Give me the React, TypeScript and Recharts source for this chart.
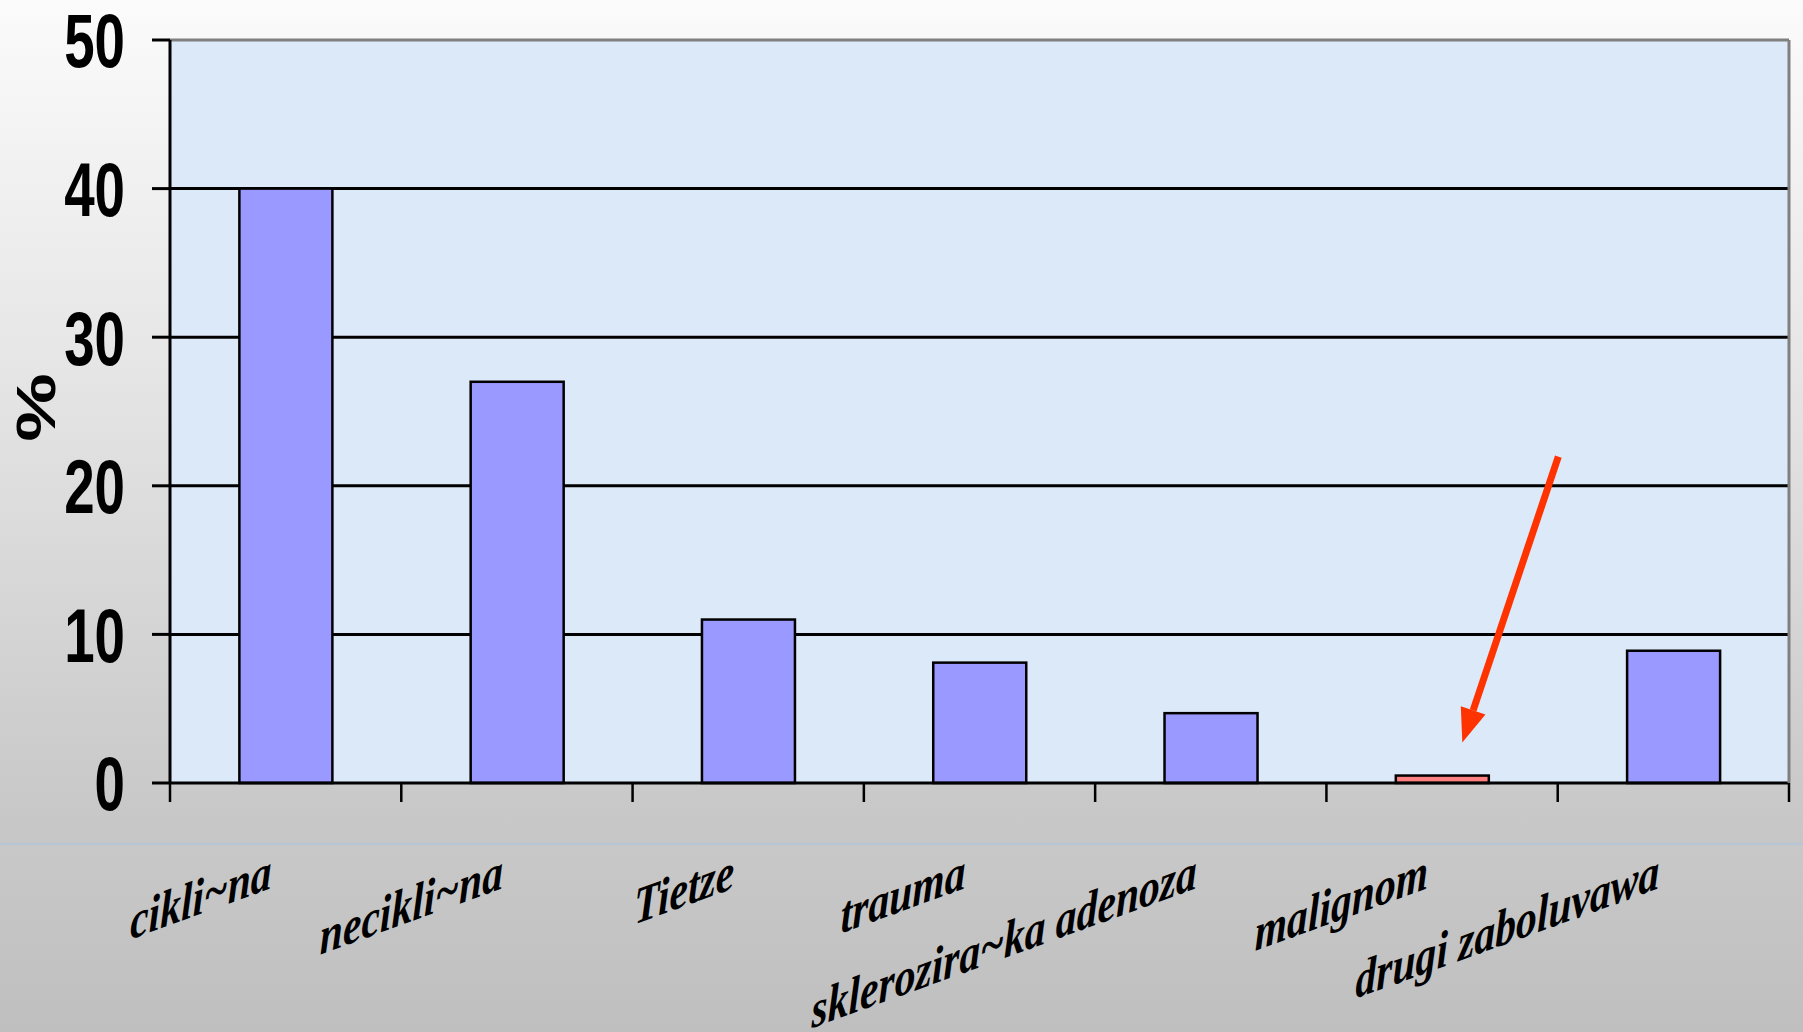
import { BarChart, Bar, XAxis, YAxis, CartesianGrid, ReferenceLine, Cell } from 'recharts';

const categories = ['cikli~na', 'necikli~na', 'Tietze', 'trauma', 'sklerozira~ka adenoza', 'malignom', 'drugi  zaboluvawa'];
const percents = [40, 27, 11, 8.1, 4.7, 0.5, 8.9];
const yTicks = [0, 10, 20, 30, 40, 50];
const highlighted = 'malignom';

const W = 1803;
const H = 1032;
const LEFT = 170;
const RIGHT = 14;

const data = categories.map((name, i) => ({ name, value: percents[i] }));

const YTick = (props: any) => {
  const { x, y, payload } = props;
  return (
    <text
      transform={`translate(${x},${y}) scale(0.72,1)`}
      textAnchor="end"
      dy="0.36em"
      fontFamily="'Liberation Sans', Arial, sans-serif"
      fontWeight="bold"
      fontSize={76}
      fill="#000"
    >
      {payload.value}
    </text>
  );
};

const XTick = (props: any) => {
  const { x, y, payload, index } = props;
  const half = payload.offset || (W - LEFT - RIGHT) / categories.length / 2;
  return (
    <g>
      <line x1={x - half} x2={x - half} y1={y} y2={y + 19} stroke="#000" strokeWidth={2.5} />
      {index === categories.length - 1 && (
        <line x1={x + half} x2={x + half} y1={y} y2={y + 19} stroke="#000" strokeWidth={2.5} />
      )}
      <text
        transform={`translate(${x - 14},${y + 105}) skewY(-20) scale(0.8,1)`}
        textAnchor="end"
        fontFamily="'Liberation Serif', 'Times New Roman', serif"
        fontStyle="italic"
        fontWeight="bold"
        fontSize={52}
        fill="#000"
      >
        {payload.value}
      </text>
    </g>
  );
};

// bar with the red pointer drawn above the highlighted one
const BarShape = (props: any) => {
  const { x, y, width, height, fill, payload } = props;
  const rect = <rect x={x} y={y} width={width} height={height} fill={fill} stroke="#000" strokeWidth={2.5} />;
  if (payload.name !== highlighted) return rect;
  const cx = x + width / 2;
  const tip = { x: cx + 20, y: y - 33 };
  const start = { x: cx + 116, y: y - 319 };
  const len = Math.hypot(tip.x - start.x, tip.y - start.y);
  const ux = (tip.x - start.x) / len;
  const uy = (tip.y - start.y) / len;
  const bx = tip.x - ux * 34;
  const by = tip.y - uy * 34;
  const nx = -uy * 13;
  const ny = ux * 13;
  return (
    <g>
      {rect}
      <line x1={start.x} y1={start.y} x2={bx} y2={by} stroke="#ff3300" strokeWidth={7} />
      <polygon points={`${tip.x},${tip.y} ${bx + nx},${by + ny} ${bx - nx},${by - ny}`} fill="#ff3300" />
    </g>
  );
};

const PctLabel = (props: any) => {
  const vb = props.viewBox || { x: 0, y: 40, width: LEFT, height: 743 };
  const cx = vb.x + 35;
  const cy = vb.y + vb.height / 2 - 4;
  return (
    <text
      transform={`translate(${cx},${cy}) rotate(-90) scale(1.4,1)`}
      textAnchor="middle"
      dy="0.36em"
      fontFamily="'Liberation Sans', Arial, sans-serif"
      fontWeight="bold"
      fontSize={55}
      fill="#000"
    >
      %
    </text>
  );
};

const App = () => {
  return (
    <div
      style={{
        position: 'absolute',
        left: 0,
        top: 0,
        width: W,
        height: H,
        background: 'linear-gradient(to bottom, #fbfbfb 0%, #e6e6e6 35%, #c6c6c6 81.7%, #c8c8c8 82%, #bfbfbf 100%)',
      }}
    >
      <div style={{ position: 'absolute', left: 0, top: 843, width: W, height: 2, background: '#b7c6d6' }} />
      <BarChart
        width={W}
        height={H}
        data={data}
        margin={{ top: 40, right: 0, bottom: 0, left: 0 }}
        barCategoryGap="30%"
        style={{ position: 'absolute', left: 0, top: 0 }}
      >
        <CartesianGrid
          vertical={false}
          horizontalValues={[10, 20, 30, 40]}
          stroke="#000"
          strokeWidth={3}
          fill="#dce9f8"
          fillOpacity={1}
        />
        <XAxis
          dataKey="name"
          interval={0}
          height={249}
          tickSize={0}
          tickMargin={0}
          tickLine={false}
          axisLine={{ stroke: '#000', strokeWidth: 3 }}
          tick={<XTick />}
        />
        <YAxis
          domain={[0, 50]}
          ticks={yTicks}
          interval={0}
          width={LEFT}
          tickSize={18}
          tickMargin={27}
          tickLine={{ stroke: '#000', strokeWidth: 3 }}
          axisLine={{ stroke: '#000', strokeWidth: 3 }}
          tick={<YTick />}
          label={{ content: (p: any) => <PctLabel {...p} /> }}
        />
        <YAxis
          yAxisId="r"
          orientation="right"
          domain={[0, 50]}
          width={RIGHT}
          tick={false}
          tickLine={false}
          axisLine={{ stroke: '#808080', strokeWidth: 3 }}
        />
        <ReferenceLine y={50} stroke="#808080" strokeWidth={3} />
        <Bar dataKey="value" shape={<BarShape />} isAnimationActive={false}>
          {data.map((d) => (
            <Cell key={d.name} fill={d.name === highlighted ? '#ff8080' : '#9999ff'} />
          ))}
        </Bar>
      </BarChart>
    </div>
  );
};

export default App;
